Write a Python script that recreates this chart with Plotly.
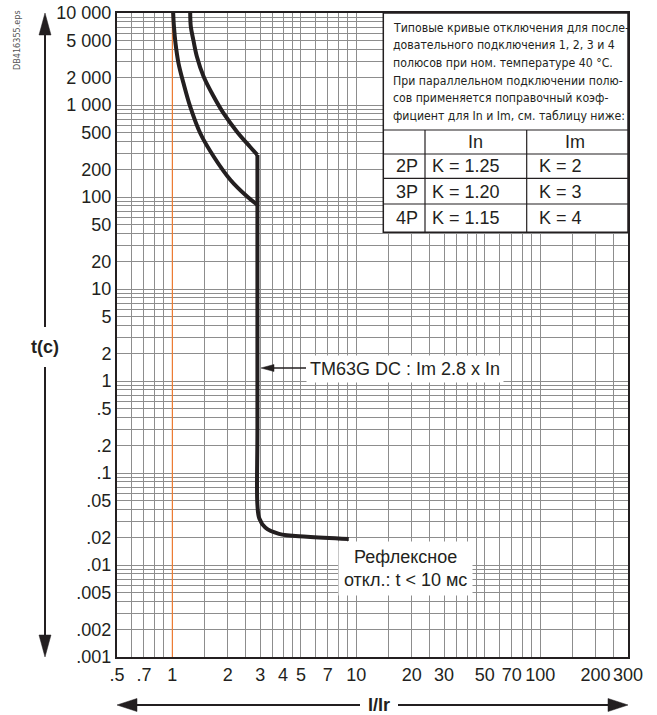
import math
import plotly.graph_objects as go

# tripping curve (I/Ir, t in s)
upper_i = [1.25, 1.26, 1.30, 1.36, 1.48, 1.68, 1.90, 2.25, 2.65, 2.90]
upper_t = [10000, 7100, 5100, 3350, 2030, 1230, 810, 510, 350, 286]
lower_i = [1.01, 1.02, 1.04, 1.08, 1.15, 1.25, 1.42, 1.68, 2.07, 2.55, 2.90]
lower_t = [10000, 7100, 4700, 2840, 1720, 960, 490, 274, 153, 101, 82]
magnetic_i = [2.90, 2.90, 2.90, 2.97, 3.20, 3.80, 5.40, 9.10]
magnetic_t = [286, 0.3, 0.045, 0.032, 0.0255, 0.0218, 0.0203, 0.0192]

x_tick_vals = [0.5, 0.7, 1, 2, 3, 4, 5, 7, 10, 20, 30, 50, 70, 100, 200, 300]
x_tick_text = [".5", ".7", "1", "2", "3", "4", "5", "7", "10", "20", "30", "50", "70", "100", "200", "300"]
y_tick_vals = [10000, 5000, 2000, 1000, 500, 200, 100, 50, 20, 10, 5, 2, 1,
               0.5, 0.2, 0.1, 0.05, 0.02, 0.01, 0.005, 0.002, 0.001]
y_tick_text = ["10 000", "5 000", "2 000", "1 000", "500", "200", "100", "50", "20", "10", "5", "2", "1",
               ".5", ".2", ".1", ".05", ".02", ".01", ".005", ".002", ".001"]

x_grid = [0.5, 0.6, 0.7, 0.8, 0.9, 1, 1.5, 2, 2.5, 3, 3.5, 4, 4.5, 5, 6, 7, 8, 9,
          10, 15, 20, 25, 30, 35, 40, 45, 50, 60, 70, 80, 90, 100, 150, 200, 250, 300]
y_grid = [m * 10 ** d for d in range(-3, 4) for m in range(1, 10)] + [10000]

note_lines = [
    "Типовые кривые отключения для после-",
    "довательного подключения 1, 2, 3 и 4",
    "полюсов при ном. температуре 40 °C.",
    "При параллельном подключении полю-",
    "сов применяется поправочный коэф-",
    "фициент для In и Im, см. таблицу ниже:",
]
table_head = ["In", "Im"]
table_poles = ["2P", "3P", "4P"]
table_k_in = ["K = 1.25", "K = 1.20", "K = 1.15"]
table_k_im = ["K = 2", "K = 3", "K = 4"]

INK = "#231f20"
FONT = "Liberation Sans, Arial, sans-serif"
NARROW = "DejaVu Sans Condensed, Liberation Sans, Arial, sans-serif"

W, H = 657, 715
L, R, T, B = 117, 628, 13, 657


def px(x):
    return (x - L) / (R - L)


def py(y):
    return (B - y) / (B - T)


def labels_for(grid, vals, texts):
    lookup = {round(math.log10(v), 4): t for v, t in zip(vals, texts)}
    return [lookup.get(round(math.log10(g), 4), "") for g in grid]


def arrow(x0, y0, x1, y1, head_len, head_half, width):
    # shaft from (x0, y0) to head base, filled head with tip at (x1, y1); pixel coords
    dx, dy = x1 - x0, y1 - y0
    n = math.hypot(dx, dy)
    ux, uy = dx / n, dy / n
    bx, by = x1 - ux * head_len, y1 - uy * head_len
    p1 = (bx - uy * head_half, by + ux * head_half)
    p2 = (bx + uy * head_half, by - ux * head_half)
    shaft = dict(type="line", xref="paper", yref="paper",
                 x0=px(x0), y0=py(y0), x1=px(bx), y1=py(by),
                 line=dict(color=INK, width=width))
    head = dict(type="path", xref="paper", yref="paper",
                path="M %.5f,%.5f L %.5f,%.5f L %.5f,%.5f Z" % (
                    px(x1), py(y1), px(p1[0]), py(p1[1]), px(p2[0]), py(p2[1])),
                fillcolor=INK, line=dict(color=INK, width=0.5))
    return [shaft, head]


def text(x, y, s, size=18, family=FONT, xanchor="center", **kw):
    return dict(xref="paper", yref="paper", x=px(x), y=py(y), text=s, showarrow=False,
                xanchor=xanchor, yanchor="middle",
                font=dict(family=family, size=size, color=kw.pop("color", INK)), **kw)


fig = go.Figure()

fig.add_trace(go.Scatter(x=[1, 1], y=[0.001, 10000], mode="lines",
                         line=dict(color="#f07c32", width=1.2), hoverinfo="skip"))
for xs, ys in [(upper_i, upper_t), (lower_i, lower_t), (magnetic_i, magnetic_t)]:
    fig.add_trace(go.Scatter(x=xs, y=ys, mode="lines",
                             line=dict(color=INK, width=4, shape="spline", smoothing=1)))

shapes = []
# note box and table
bx0, bx1, by0, by1 = 383.3, 628, 13, 232.3
shapes.append(dict(type="rect", xref="paper", yref="paper", layer="above",
                   x0=px(bx0), x1=px(bx1), y0=py(by1), y1=py(by0),
                   fillcolor="white", line=dict(color=INK, width=1.5)))
for yy in [130, 154, 178.3, 204]:
    shapes.append(dict(type="line", xref="paper", yref="paper", layer="above",
                       x0=px(bx0), x1=px(bx1), y0=py(yy), y1=py(yy),
                       line=dict(color=INK, width=1.2)))
for xx in [425, 526.7]:
    shapes.append(dict(type="line", xref="paper", yref="paper", layer="above",
                       x0=px(xx), x1=px(xx), y0=py(130), y1=py(by1),
                       line=dict(color=INK, width=1.2)))

# axis arrows
shapes += arrow(45, 327, 45, 13, 22, 6, 2)
shapes += arrow(45, 367, 45, 657, 22, 6, 2)
shapes += arrow(360, 705, 117, 705, 20, 6.5, 2)
shapes += arrow(398, 705, 628, 705, 20, 6.5, 2)
# label arrow for the magnetic line
shapes += arrow(306, 368, 261, 368, 13, 3.5, 1.5)

ann = []
for i, line in enumerate(note_lines):
    ann.append(text(391, 28 + i * 17.5, line, size=12.2, family=NARROW, xanchor="left"))
ann.append(text(475, 142, table_head[0]))
ann.append(text(575, 142, table_head[1]))
for yy, p, a, b in zip([166, 191.5, 218], table_poles, table_k_in, table_k_im):
    for xx, t in [(394, p), (430, a), (537, b)]:
        ann.append(text(xx, yy, t, xanchor="left"))

ann.append(text(306, 369, "TM63G DC : Im 2.8 x In", xanchor="left",
                bgcolor="white", borderpad=3))
ann.append(text(405, 568, "Рефлексное<br>откл.: t &lt; 10 мс", align="center",
                bgcolor="white", borderpad=5))

ann.append(text(45, 347, "<b>t(c)</b>"))
ann.append(text(379, 705, "<b>I/Ir</b>"))
ann.append(text(17, 40, "DB416355.eps", size=9, family=NARROW, textangle=-90,
                color="#555555"))

axis_common = dict(type="log", showgrid=True, gridcolor="#8d8d8d", gridwidth=1,
                   showline=True, mirror=True, linecolor=INK, linewidth=2,
                   ticks="", zeroline=False, automargin=False,
                   tickfont=dict(family=FONT, size=18, color=INK))

fig.update_layout(
    template="none",
    width=W, height=H,
    margin=dict(l=L, r=W - R, t=T, b=H - B),
    paper_bgcolor="white", plot_bgcolor="white",
    showlegend=False,
    xaxis=dict(axis_common, range=[math.log10(0.5), math.log10(300)],
               tickmode="array", tickvals=x_grid,
               ticktext=labels_for(x_grid, x_tick_vals, x_tick_text)),
    yaxis=dict(axis_common, range=[-3, 4],
               tickmode="array", tickvals=y_grid,
               ticktext=labels_for(y_grid, y_tick_vals, y_tick_text)),
    shapes=shapes,
    annotations=ann,
)

fig.write_html("out.html", config={"displayModeBar": False},
               post_script="document.body.style.margin='0';")
